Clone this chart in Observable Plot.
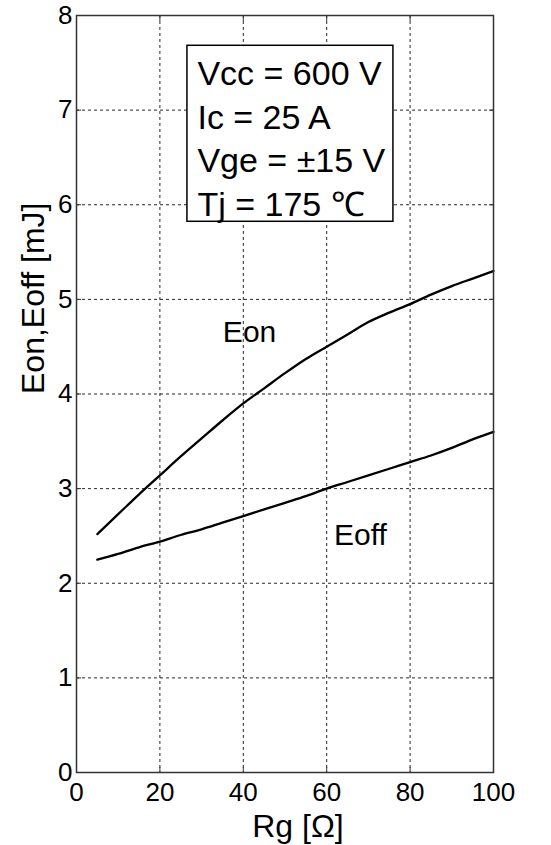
<!DOCTYPE html>
<html>
<head>
<meta charset="utf-8">
<script src="https://cdn.jsdelivr.net/npm/d3@7"></script>
<script src="https://cdn.jsdelivr.net/npm/@observablehq/plot@0.6"></script>
<style>
  html, body { margin: 0; padding: 0; background: #fff; }
  svg { font-family: "Liberation Sans", Arial, sans-serif; }
</style>
</head>
<body>
<div id="chart"></div>
<script>
const rg = [5, 10, 15, 20, 25, 30, 35, 40, 45, 50, 55, 60, 65, 70, 75, 80, 85, 90, 95, 100];
const eon = [2.52, 2.73, 2.94, 3.14, 3.34, 3.53, 3.72, 3.90, 4.06, 4.22, 4.37, 4.50, 4.63, 4.76, 4.86, 4.95, 5.05, 5.14, 5.22, 5.30];
const eoff = [2.25, 2.31, 2.38, 2.44, 2.51, 2.57, 2.64, 2.71, 2.78, 2.85, 2.92, 3.00, 3.07, 3.14, 3.21, 3.28, 3.35, 3.43, 3.52, 3.60];
const xTicks = [0, 20, 40, 60, 80, 100];
const yTicks = [0, 1, 2, 3, 4, 5, 6, 7, 8];
const seriesLabels = [
  {name: "Eon", x: 41.5, y: 4.65},
  {name: "Eoff", x: 68.1, y: 2.51}
];
const conditions = ["Vcc = 600 V", "Ic = 25 A", "Vge = ±15 V", "Tj = 175 ℃"];
const box = {x1: 26.6, x2: 76, y1: 5.82, y2: 7.68};

const rows = [];
rg.forEach((r, i) => {
  rows.push({rg: r, e: eon[i], s: "Eon"});
  rows.push({rg: r, e: eoff[i], s: "Eoff"});
});

const chart = Plot.plot({
  width: 551,
  height: 845,
  marginLeft: 76,
  marginRight: 58,
  marginTop: 15,
  marginBottom: 73,
  style: {fontFamily: "'Liberation Sans', Arial, sans-serif", background: "#fff", color: "#000"},
  x: {domain: [0, 100]},
  y: {domain: [0, 8]},
  marks: [
    Plot.gridX(xTicks, {stroke: "#000", strokeOpacity: 0.85, strokeDasharray: "3,3", strokeWidth: 1}),
    Plot.gridY(yTicks, {stroke: "#000", strokeOpacity: 0.85, strokeDasharray: "3,3", strokeWidth: 1}),
    // inward ticks on all sides
    Plot.axisX(xTicks, {anchor: "bottom", tickSize: -5, text: null, label: null, stroke: "#333"}),
    Plot.axisX(xTicks, {anchor: "top", tickSize: -5, text: null, label: null, stroke: "#333"}),
    Plot.axisY(yTicks, {anchor: "left", tickSize: -5, text: null, label: null, stroke: "#333"}),
    Plot.axisY(yTicks, {anchor: "right", tickSize: -5, text: null, label: null, stroke: "#333"}),
    // tick labels
    Plot.axisX(xTicks, {anchor: "bottom", tickSize: 0, tickPadding: 10, fontSize: 26, label: null, fill: "#000", tickFormat: "d"}),
    Plot.axisY(yTicks, {anchor: "left", tickSize: 0, tickPadding: 4, fontSize: 26, label: null, fill: "#000", tickFormat: "d"}),
    // axis titles
    Plot.text(["Rg [Ω]"], {frameAnchor: "bottom", lineAnchor: "bottom", dx: 13, dy: 64, fontSize: 32, fill: "#000"}),
    Plot.text(["Eon,Eoff [mJ]"], {frameAnchor: "left", rotate: -90, dx: -43, fontSize: 32, fill: "#000"}),
    // curves
    Plot.line(rows, {x: "rg", y: "e", z: "s", stroke: "#000", strokeWidth: 2.3, curve: "monotone-x"}),
    // curve labels
    Plot.text(seriesLabels, {x: "x", y: "y", text: "name", fontSize: 30, fill: "#000"}),
    // condition box
    Plot.rect([box], {x1: "x1", x2: "x2", y1: "y1", y2: "y2", fill: "#fff", stroke: "#000", strokeWidth: 1.5}),
    Plot.text([conditions.join("\n")], {x: 29.0, y: 7.59, textAnchor: "start", lineAnchor: "top", lineHeight: 1.28, fontSize: 34, fill: "#000"}),
    Plot.frame({stroke: "#333", strokeWidth: 1.5})
  ]
});
document.getElementById("chart").appendChild(chart);
</script>
</body>
</html>
